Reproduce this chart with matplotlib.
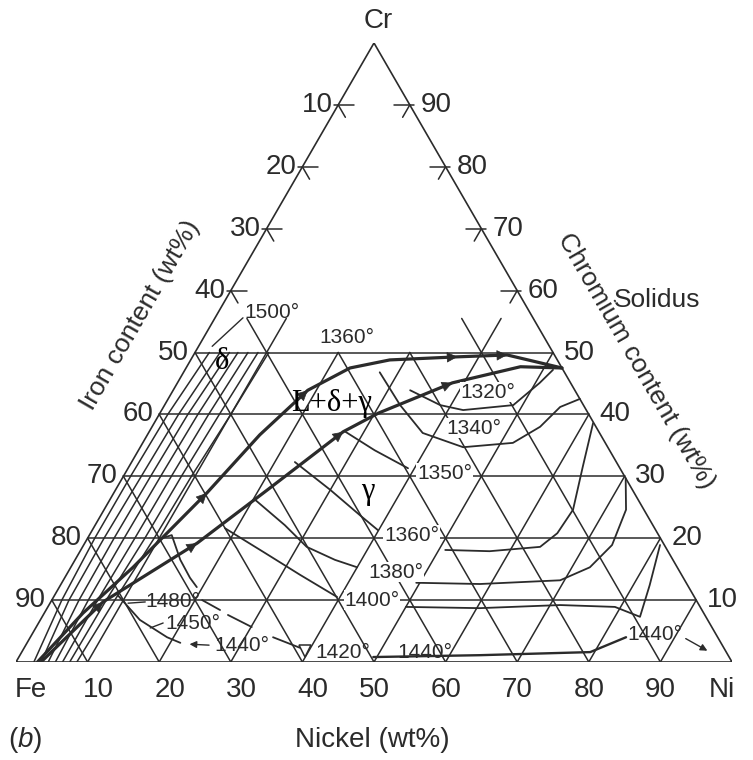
import numpy as np
import matplotlib
matplotlib.use('Agg')
from matplotlib import pyplot as plt

# compositions are (Ni wt%, Cr wt%), Fe is the remainder
tick_values = [10, 20, 30, 40, 50, 60, 70, 80, 90]
grid_rows = [10, 20, 30, 40, 50]
cr_cut = 50
cross_lines = [10, 40]      # Ni / Fe lines drawn a little above the cut
cross_top = 55.5

# bold three-phase valleys with arrows
valley_a_ni = [3.0, 5.4, 8.7, 13.0, 15.7, 18.8, 22.9, 27.8, 37.0, 43.8, 52.5]
valley_a_cr = [0.0, 7.9, 15.3, 27.3, 36.7, 43.9, 47.5, 48.8, 49.3, 49.6, 47.5]
valley_a_arrows = [3, 5, 8, 9]
valley_b_ni = [3.5, 7.3, 15.7, 21.4, 27.1, 30.5, 38.4, 46.6, 52.5]
valley_b_cr = [0.0, 9.7, 19.2, 28.1, 37.2, 40.2, 45.1, 47.7, 47.5]
valley_b_arrows = [1, 2, 4, 6]

# isotherms in the delta field
delta_cr = [0, 10, 20, 30, 40, 50]
delta_ni = [
    [2.5, 1.4, 1.0, 1.0, 1.2, 2.0],
    [3.5, 2.4, 2.3, 2.5, 2.7, 3.5],
    [4.5, 3.8, 3.7, 3.8, 4.0, 4.8],
    [5.5, 5.1, 5.1, 5.2, 5.4, 6.0],
    [6.5, 6.4, 6.6, 6.7, 6.9, 7.4],
    [7.5, 7.6, 8.0, 8.1, 8.4, 8.8],
    [8.5, 8.8, 9.3, 9.5, 10.0, 10.3],
]

# isotherms in the gamma field (pieces either side of the labels)
iso1320_ni = [33.1, 38.5, 42.1, 48.7, 50.6, 51.4]
iso1320_cr = [43.9, 41.5, 40.7, 41.5, 45.1, 47.2]
iso1340_ni = [27.4, 32.9, 38.3, 45.1, 51.7, 54.2, 55.4, 57.5]
iso1340_cr = [46.8, 41.5, 37.0, 34.7, 35.4, 38.0, 41.2, 42.5]
iso1350_ni = [27.4, 33.0, 39.1]
iso1350_cr = [37.2, 34.2, 31.3]
iso1360a_ni = [22.8, 30.0, 36.2, 39.9]
iso1360a_cr = [32.3, 27.8, 23.7, 21.3]
iso1360b_ni = [50.9, 57.2, 63.9, 65.2, 65.5, 63.4, 61.3]
iso1360b_cr = [18.1, 17.9, 18.6, 20.8, 24.6, 31.5, 38.6]
iso1380a_ni = [20.3, 26.5, 31.3, 36.3, 40.0]
iso1380a_cr = [26.2, 22.1, 18.6, 16.5, 15.3]
iso1380b_ni = [49.5, 58.5, 69.4, 72.5, 73.8, 72.9, 70.3]
iso1380b_cr = [12.8, 12.6, 13.2, 15.3, 18.9, 24.6, 29.7]
iso1400a_ni = [18.4, 26.0, 32.6, 39.6]
iso1400a_cr = [21.6, 17.6, 14.1, 10.5]
iso1400b_ni = [50.0, 60.4, 71.4, 79.2, 83.5, 82.3, 80.5]
iso1400b_cr = [8.9, 8.7, 9.2, 8.9, 7.3, 12.4, 18.9]
iso1440r_ni = [49.5, 64.2, 79.4, 83.2]
iso1440r_cr = [0.8, 1.1, 1.6, 4.0]
iso1440l_ni = [8.8, 13.9, 19.1, 21.4]
iso1440l_cr = [10.8, 6.8, 4.0, 3.1]
hook_ni = [10.4, 11.5, 14.7, 17.5, 19.2]
hook_cr = [20.0, 20.5, 16.5, 13.6, 12.1]
iso1480_ni = [21.0, 24.3]
iso1480_cr = [10.0, 8.4]
iso1450_ni = [25.8, 30.1]
iso1450_cr = [7.6, 5.65]
iso1420_ni = [33.9, 38.5]
iso1420_cr = [4.0, 2.3]
mark1420 = (39.5, 1.8)

# leader lines (Ni, Cr pairs)
leaders = [
    ([3.9, 1.9], [55.6, 51.0]),      # 1500
    ([10.9, 13.2], [9.5, 9.7]),      # 1480
    ([16.0, 17.4], [5.5, 6.3]),      # 1450
]
leader_arrows = [
    ((26.0, 2.7), (22.4, 2.9)),      # 1440 left
    ((91.2, 4.0), (96.1, 1.6)),      # 1440 right
]

# isotherm labels: text, Ni, Cr, white box behind
iso_labels = [
    ("1500°", 7.6, 56.4, False), ("1360°", 20.0, 52.5, False),
    ("1320°", 44.1, 43.6, True), ("1340°", 45.1, 37.8, True),
    ("1350°", 44.6, 30.5, True), ("1360°", 45.0, 20.5, True),
    ("1380°", 45.8, 14.5, True), ("1400°", 44.7, 10.0, True),
    ("1420°", 44.9, 1.6, False), ("1440°", 56.3, 1.6, False),
    ("1440°", 87.0, 4.4, False), ("1480°", 17.1, 9.7, False),
    ("1450°", 21.6, 6.3, False), ("1440°", 30.2, 2.7, False),
]
phase_labels = [("δ", 4.5, 48.5), ("L+δ+γ", 23.2, 41.8), ("γ", 35.4, 27.5)]

ink = '#2b2b2b'
plt.rcParams['font.family'] = ['Liberation Sans', 'DejaVu Sans']
plt.rcParams['mathtext.fontset'] = 'custom'
plt.rcParams['mathtext.it'] = 'Liberation Sans:italic'
plt.rcParams['mathtext.rm'] = 'Liberation Sans'


def tern(ni, cr):
    ni = np.asarray(ni, dtype=float)
    cr = np.asarray(cr, dtype=float)
    return ni + cr / 2, cr


def draw(ax, ni, cr, lw=1.1, **kw):
    x, y = tern(ni, cr)
    ax.plot(x, y, color=ink, lw=lw, solid_joinstyle='round',
            solid_capstyle='round', **kw)


def arrows_on(ax, ni, cr, idx):
    x, y = tern(ni, cr)
    for i in idx:
        dx, dy = x[i] - x[i - 1], y[i] - y[i - 1]
        n = np.hypot(dx, dy)
        ax.annotate('', xy=(x[i], y[i]),
                    xytext=(x[i] - dx / n * 0.6, y[i] - dy / n * 0.6),
                    arrowprops=dict(arrowstyle='-|>', color=ink, lw=0.5,
                                    mutation_scale=17))


def main():
    fig = plt.figure(figsize=(7.53, 7.60), dpi=100)
    ax = fig.add_axes([16 / 753, 98 / 760, 716 / 753, 619 / 760])
    ax.set_xlim(0, 100)
    ax.set_ylim(0, 100)
    ax.axis('off')

    # outline
    draw(ax, [0, 100, 0, 0], [0, 0, 100, 0], lw=1.2)

    # grid below the cut
    for c in grid_rows:
        draw(ax, [0, 100 - c], [c, c])
    for n in tick_values:
        top = min(cr_cut, 100 - n)
        if n in cross_lines:
            top = cross_top
        draw(ax, [n, n], [0, top])
    for fe in tick_values:
        top = min(cr_cut, 100 - fe)
        if fe in cross_lines:
            top = cross_top
        draw(ax, [100 - fe, 100 - fe - top], [0, top])

    # edge ticks and labels
    for c in tick_values:
        xl, yl = tern(0, c)
        xr, yr = tern(100 - c, c)
        if c > cr_cut:
            draw(ax, [-0.6, 2.2], [c, c])
            draw(ax, [0, 2.0], [c, c - 2.0])
            draw(ax, [100 - c + 0.6, 100 - c - 2.2], [c, c])
            draw(ax, [100 - c, 100 - c], [c, c - 2.0])
        ax.text(xl - 0.8, yl, str(100 - c), ha='right', va='center',
                fontsize=20, color=ink)
        ax.text(xr + 1.5, yr, str(c), ha='left', va='center',
                fontsize=20, color=ink)
        ax.text(c + (1.5 if c < 50 else 0), -4.5, str(c), ha='center',
                va='center', fontsize=20, color=ink)

    ax.text(2.1, -4.5, 'Fe', ha='center', va='center', fontsize=20, color=ink)
    ax.text(98.6, -4.5, 'Ni', ha='center', va='center', fontsize=20, color=ink)
    ax.text(50.6, 103.5, 'Cr', ha='center', va='center', fontsize=20, color=ink)
    ax.text(49.7, -12.6, 'Nickel (wt%)', ha='center', va='center',
            fontsize=20, color=ink)
    ax.text(-1.1, -12.6, '($b$)', ha='left', va='center', fontsize=20,
            color=ink)
    ax.text(17.3, 56.1, 'Iron content (wt%)', ha='center', va='center',
            rotation=60, fontsize=19, color=ink)
    ax.text(86.6, 48.6, 'Chromium content (wt%)', ha='center', va='center',
            rotation=-60, fontsize=19, color=ink)
    ax.text(89.6, 58.5, 'Solidus', ha='center', va='center', fontsize=19,
            color=ink)

    # delta field isotherms
    for ni in delta_ni:
        draw(ax, ni, delta_cr, lw=1.1)

    # gamma field isotherms
    for ni, cr in [(iso1320_ni, iso1320_cr), (iso1340_ni, iso1340_cr),
                   (iso1350_ni, iso1350_cr), (iso1360a_ni, iso1360a_cr),
                   (iso1360b_ni, iso1360b_cr), (iso1380a_ni, iso1380a_cr),
                   (iso1380b_ni, iso1380b_cr), (iso1400a_ni, iso1400a_cr),
                   (iso1400b_ni, iso1400b_cr), (iso1440l_ni, iso1440l_cr),
                   (hook_ni, hook_cr), (iso1480_ni, iso1480_cr),
                   (iso1450_ni, iso1450_cr), (iso1420_ni, iso1420_cr)]:
        draw(ax, ni, cr, lw=1.3)
    draw(ax, iso1440r_ni, iso1440r_cr, lw=1.7)
    mx, my = tern(*mark1420)
    ax.plot(mx, my, marker='v', ms=9, mfc='white', mec=ink, mew=1.1)

    for ni, cr in leaders:
        draw(ax, ni, cr, lw=1.0)
    for start, end in leader_arrows:
        sx, sy = tern(*start)
        ex, ey = tern(*end)
        ax.annotate('', xy=(ex, ey), xytext=(sx, sy),
                    arrowprops=dict(arrowstyle='-|>', color=ink, lw=1.0,
                                    mutation_scale=10))

    # valleys
    draw(ax, valley_a_ni, valley_a_cr, lw=2.3)
    draw(ax, valley_b_ni, valley_b_cr, lw=2.3)
    arrows_on(ax, valley_a_ni, valley_a_cr, valley_a_arrows)
    arrows_on(ax, valley_b_ni, valley_b_cr, valley_b_arrows)

    for txt, ni, cr, boxed in iso_labels:
        x, y = tern(ni, cr)
        box = dict(facecolor='white', edgecolor='none', pad=0.5) if boxed else None
        ax.text(x, y, txt, ha='center', va='center', fontsize=15, color=ink,
                bbox=box, zorder=5)

    for txt, ni, cr in phase_labels:
        x, y = tern(ni, cr)
        ax.text(x, y, txt, ha='center', va='center', fontsize=22, color='black',
                family=['Liberation Serif', 'DejaVu Serif'], zorder=6)

    fig.savefig('out.png', dpi=100, facecolor='white')


if __name__ == "__main__":
    main()
